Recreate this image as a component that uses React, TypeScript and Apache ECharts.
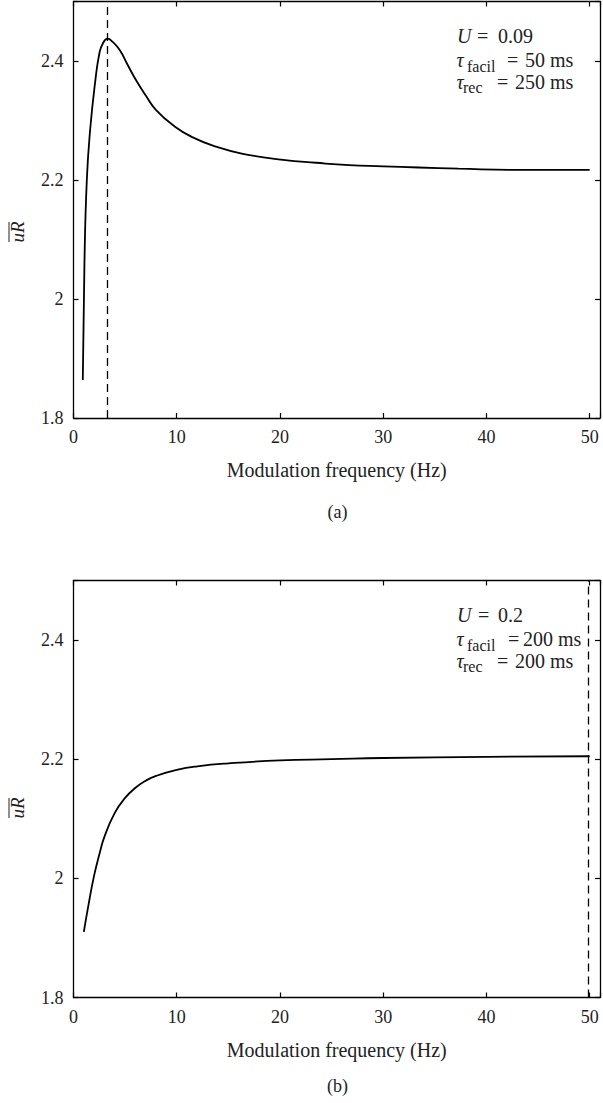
import React, { useEffect, useRef } from "react";
import * as echarts from "echarts";

// Panel (a): U = 0.09, tau_facil = 50 ms, tau_rec = 250 ms
const freqA = [0.9, 1.06, 1.29, 1.61, 2.12, 2.51, 2.83, 3.31, 3.8, 4.49, 5.2, 6.05, 7.0, 7.98, 9.8, 11.5, 13.8, 16.4, 20.3, 23.5, 26.7, 30, 33.4, 37.3, 43.1, 50];
const valA = [1.864, 2.06, 2.2, 2.284, 2.368, 2.413, 2.429, 2.4376, 2.432, 2.418, 2.395, 2.368, 2.342, 2.318, 2.29, 2.272, 2.256, 2.244, 2.234, 2.229, 2.225, 2.223, 2.221, 2.219, 2.217, 2.217];
const peakA = 3.3;

// Panel (b): U = 0.2, tau_facil = 200 ms, tau_rec = 200 ms
const freqB = [1, 1.5, 2, 2.5, 3, 4, 5, 6, 7, 8, 10, 12, 15, 20, 25, 30, 40, 50];
const valB = [1.91, 1.96, 2.005, 2.04, 2.07, 2.11, 2.135, 2.152, 2.164, 2.172, 2.182, 2.188, 2.193, 2.198, 2.2, 2.202, 2.204, 2.205];
const peakB = 49.9;

const xTicks = [0, 10, 20, 30, 40, 50];
const yTicks = [1.8, 2.0, 2.2, 2.4];
const xTitle = "Modulation frequency (Hz)";
const panelLabels = ["(a)", "(b)"];

const FONT = "'Liberation Serif', 'DejaVu Serif', serif";
const TXT = "#222";

export default function App() {
  const ref = useRef<HTMLDivElement>(null);
  useEffect(() => {
    if (!ref.current) return;
    const chart = echarts.init(ref.current, undefined, { renderer: "svg" });

    const grids = [
      { left: 73.5, top: 1.5, width: 528, height: 416.5 },
      { left: 73.5, top: 580.5, width: 528, height: 417 },
    ];

    const xAxes: any[] = [];
    const yAxes: any[] = [];
    grids.forEach((_, gi) => {
      const common = {
        gridIndex: gi,
        type: "value",
        min: 0,
        max: 51,
        interval: 10,
        axisLine: { show: true, onZero: false, lineStyle: { color: "#000", width: 1.3 } },
        axisTick: { show: true, inside: true, length: 5, lineStyle: { color: "#000", width: 1.2 } },
        splitLine: { show: false },
      };
      xAxes.push({
        ...common,
        position: "bottom",
        name: xTitle,
        nameLocation: "middle",
        nameGap: 42,
        nameTextStyle: { fontFamily: FONT, fontSize: 20, color: TXT },
        axisLabel: {
          show: true,
          margin: 10,
          fontFamily: FONT,
          fontSize: 18,
          color: TXT,
          formatter: (v: number) => (xTicks.indexOf(v) >= 0 ? String(v) : ""),
        },
      });
      xAxes.push({ ...common, position: "top", axisLabel: { show: false } });
      const ycommon = {
        gridIndex: gi,
        type: "value",
        min: 1.8,
        max: 2.5,
        interval: 0.2,
        axisLine: { show: true, onZero: false, lineStyle: { color: "#000", width: 1.3 } },
        axisTick: { show: true, inside: true, length: 5, lineStyle: { color: "#000", width: 1.2 } },
        splitLine: { show: false },
      };
      yAxes.push({
        ...ycommon,
        position: "left",
        axisLabel: {
          show: true,
          margin: 10,
          fontFamily: FONT,
          fontSize: 18,
          color: TXT,
          formatter: (v: number) => {
            const r = Math.round(v * 10) / 10;
            return yTicks.some((t) => Math.abs(t - r) < 1e-6) && Math.abs(v - 2.5) > 1e-6 ? String(r) : "";
          },
        },
      });
      yAxes.push({ ...ycommon, position: "right", axisLabel: { show: false } });
    });

    const mkSeries = (fx: number[], vy: number[], peak: number, gi: number) => ({
      type: "line",
      xAxisIndex: gi * 2,
      yAxisIndex: gi * 2,
      data: fx.map((f, i) => [f, vy[i]]),
      showSymbol: false,
      smooth: 0.5,
      lineStyle: { color: "#000", width: 1.8 },
      markLine: {
        silent: true,
        symbol: "none",
        label: { show: false },
        lineStyle: { color: "#000", type: [8, 5], width: 1.3 },
        data: [{ xAxis: peak }],
      },
    });

    const txt = (x: number, y: number, text: string, size: number, italic = false) => ({
      type: "text",
      x,
      y,
      silent: true,
      style: {
        text,
        fontFamily: FONT,
        fontSize: size,
        fontStyle: italic ? "italic" : "normal",
        fill: TXT,
        align: "left",
        verticalAlign: "middle",
      },
    });

    const annot = (dy: number, uVal: string, uValX: number, uEqX: number, facilEqX: number, facilVal: string, facilValX: number, recEqX: number, recVal: string, recValX: number) => [
      txt(457, 36 + dy, "U", 20, true),
      txt(uEqX, 36 + dy, "=", 20),
      txt(uValX, 36 + dy, uVal, 20),
      txt(456.5, 60 + dy, "τ", 20, true),
      txt(467, 66 + dy, "facil", 16),
      txt(facilEqX, 60 + dy, "=", 20),
      txt(facilValX, 60 + dy, facilVal, 20),
      txt(456.5, 82 + dy, "τ", 20, true),
      txt(463, 87 + dy, "rec", 16),
      txt(recEqX, 82 + dy, "=", 20),
      txt(recValX, 82 + dy, recVal, 20),
    ];

    const yLabel = (y: number) => ({
      type: "group",
      x: 17,
      y,
      rotation: Math.PI / 2,
      silent: true,
      children: [
        {
          type: "text",
          x: 0,
          y: 0,
          style: {
            text: "uR",
            fontFamily: FONT,
            fontSize: 19,
            fontStyle: "italic",
            fill: TXT,
            align: "center",
            verticalAlign: "middle",
          },
        },
        {
          type: "line",
          shape: { x1: -10, y1: -8, x2: 10, y2: -8 },
          style: { stroke: TXT, lineWidth: 1 },
        },
      ],
    });

    const center = (text: string, y: number) => ({
      type: "text",
      x: 337.5,
      y,
      silent: true,
      style: { text, fontFamily: FONT, fontSize: 18, fill: TXT, align: "center", verticalAlign: "middle" },
    });

    chart.setOption({
      animation: false,
      backgroundColor: "#fff",
      textStyle: { fontFamily: FONT },
      grid: grids,
      xAxis: xAxes,
      yAxis: yAxes,
      series: [mkSeries(freqA, valA, peakA, 0), mkSeries(freqB, valB, peakB, 1)],
      graphic: [
        ...annot(0, "0.09", 498, 477, 507, "50 ms", 525, 497, "250 ms", 515),
        ...annot(579, "0.2", 498, 478, 508, "200 ms", 523, 497, "200 ms", 515),
        yLabel(232),
        yLabel(808),
        center(panelLabels[0], 512),
        center(panelLabels[1], 1086),
      ],
    });
    return () => chart.dispose();
  }, []);
  return <div ref={ref} style={{ position: "absolute", left: 0, top: 0, width: 603, height: 1103 }} />;
}
